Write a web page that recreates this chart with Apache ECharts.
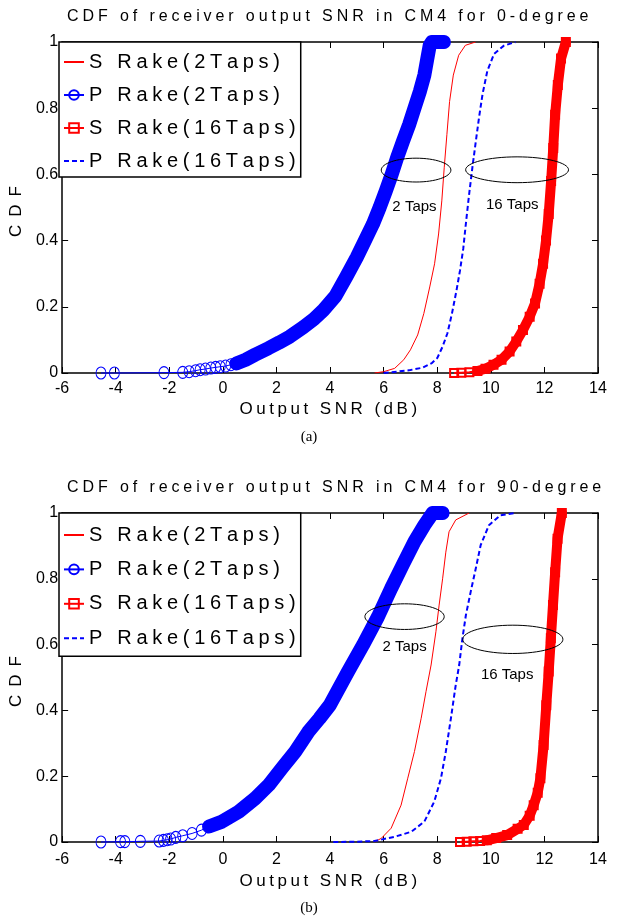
<!DOCTYPE html>
<html>
<head>
<meta charset="utf-8">
<script src="https://cdn.jsdelivr.net/npm/echarts@6/dist/echarts.min.js"></script>
<style>
  html, body { margin: 0; padding: 0; background: #fff; }
  #chart { width: 618px; height: 921px; }
</style>
</head>
<body>
<div id="chart"></div>
<script>
// ---------- text ----------
const panelTitles = [
  'CDF of receiver output SNR in CM4 for 0-degree',
  'CDF of receiver output SNR in CM4 for 90-degree'
];
const panelTags = ['(a)', '(b)'];
const seriesNames = ['S Rake(2Taps)', 'P Rake(2Taps)', 'S Rake(16Taps)', 'P Rake(16Taps)'];
const xAxisTitle = 'Output SNR (dB)';
const yAxisTitle = 'CDF';
const tapLabels = ['2 Taps', '16 Taps'];

// ---------- axes ----------
const xMin = -6, xMax = 14, xStep = 2;
const yMin = 0, yMax = 1, yStep = 0.2;

// ---------- panel (a): 0-degree, [SNR dB, CDF] ----------
const sRake2A = [[5.66,0],[6.0,0.004],[6.41,0.014],[6.75,0.04],[7.0,0.07],[7.27,0.115],[7.5,0.18],[7.72,0.26],[7.9,0.33],[8.05,0.42],[8.17,0.52],[8.26,0.62],[8.36,0.72],[8.46,0.82],[8.6,0.9],[8.8,0.96],[9.05,0.99],[9.43,1]];
const pRake2A = [[-4.55,0],[-4.05,0],[-2.2,0.001],[-1.5,0.002],[-1.26,0.004],[-1.02,0.007],[-0.85,0.01],[-0.65,0.012],[-0.45,0.015],[-0.27,0.017],[-0.1,0.019],[0.1,0.021],[0.3,0.025],[0.5,0.029],[0.85,0.04],[1.2,0.055],[1.7,0.075],[2.1,0.092],[2.5,0.11],[3.0,0.138],[3.4,0.163],[3.75,0.19],[4.2,0.232],[4.6,0.29],[5.0,0.35],[5.3,0.4],[5.6,0.45],[5.85,0.5],[6.08,0.55],[6.3,0.6],[6.5,0.65],[6.72,0.7],[6.95,0.75],[7.15,0.8],[7.35,0.85],[7.52,0.9],[7.63,0.95],[7.72,0.99],[7.8,1],[7.95,1],[8.1,1],[8.25,1]];
const sRake16A = [[8.63,0],[8.9,0.001],[9.2,0.002],[9.5,0.006],[9.8,0.013],[10.1,0.025],[10.4,0.04],[10.7,0.065],[10.95,0.095],[11.2,0.13],[11.45,0.17],[11.65,0.21],[11.82,0.27],[11.95,0.33],[12.06,0.4],[12.16,0.48],[12.25,0.58],[12.33,0.68],[12.4,0.78],[12.5,0.87],[12.62,0.95],[12.8,1]];
const pRake16A = [[6.0,0],[6.5,0.004],[7.0,0.009],[7.45,0.016],[7.8,0.03],[8.0,0.045],[8.2,0.08],[8.38,0.12],[8.55,0.18],[8.72,0.25],[8.85,0.31],[8.97,0.375],[9.08,0.46],[9.19,0.54],[9.31,0.62],[9.44,0.7],[9.56,0.772],[9.69,0.842],[9.87,0.913],[10.12,0.964],[10.49,0.989],[10.92,1]];

// ---------- panel (b): 90-degree, [SNR dB, CDF] ----------
const sRake2B = [[5.65,0],[5.91,0.011],[6.28,0.042],[6.65,0.112],[6.9,0.194],[7.15,0.275],[7.4,0.376],[7.58,0.457],[7.77,0.538],[7.95,0.639],[8.07,0.72],[8.2,0.8],[8.32,0.881],[8.44,0.943],[8.69,0.979],[9.19,1]];
const pRake2B = [[-4.55,0],[-3.82,0.001],[-3.66,0.001],[-3.08,0.002],[-2.38,0.003],[-2.22,0.005],[-2.08,0.007],[-1.95,0.009],[-1.76,0.014],[-1.5,0.019],[-1.15,0.026],[-0.8,0.036],[-0.52,0.047],[-0.03,0.062],[0.59,0.092],[1.21,0.133],[1.71,0.173],[2.2,0.224],[2.7,0.275],[3.19,0.335],[3.6,0.375],[3.99,0.416],[4.67,0.518],[5.23,0.599],[5.79,0.685],[6.28,0.771],[6.71,0.842],[7.15,0.913],[7.52,0.963],[7.83,1],[8.0,1],[8.2,1]];
const sRake16B = [[8.85,0],[9.1,0.001],[9.35,0.002],[9.6,0.003],[9.85,0.005],[10.2,0.012],[10.61,0.021],[11.0,0.04],[11.23,0.052],[11.45,0.08],[11.6,0.112],[11.75,0.15],[11.85,0.194],[11.97,0.295],[12.07,0.416],[12.16,0.518],[12.24,0.619],[12.32,0.72],[12.4,0.82],[12.49,0.922],[12.65,1]];
const pRake16B = [[4.12,0],[5.0,0.001],[5.66,0.003],[6.41,0.016],[7.03,0.031],[7.52,0.062],[7.89,0.123],[8.14,0.194],[8.32,0.275],[8.51,0.376],[8.69,0.477],[8.82,0.538],[8.94,0.619],[9.07,0.69],[9.25,0.761],[9.44,0.832],[9.62,0.902],[9.93,0.963],[10.36,0.993],[10.92,1]];

// ---------- annotation placement (data units): [cx, cy, half-width, half-height] ----------
const ellipseSpecA = [[7.21, 0.613, 1.30, 0.036], [10.98, 0.614, 1.92, 0.039]];
const ellipseSpecB = [[6.78, 0.685, 1.48, 0.039], [10.82, 0.616, 1.87, 0.043]];
const tapLabelPosA = [[7.15, 0.502], [10.8, 0.507]];
const tapLabelPosB = [[6.78, 0.594], [10.61, 0.508]];

// ---------- styling ----------
const RED = '#ff0000', BLUE = '#0000ff', INK = '#000';
const SANS = '"Liberation Sans", Arial, Helvetica, sans-serif';
const SERIF = '"Liberation Serif", "Times New Roman", serif';
const HIDDEN = { color: 'rgba(0,0,0,0)', borderColor: 'rgba(0,0,0,0)', borderWidth: 0 };

const panels = [
  { top: 42, height: 331, legendTop: 42, legendPad: [10, 5, 6, 4], legendGap: 13,
    labelMargin: 8, nameGap: 28,
    s2: sRake2A, p2: pRake2A, s16: sRake16A, p16: pRake16A, p2Band: 0.5, s16Band: 9.5,
    ellipses: ellipseSpecA, labels: tapLabelPosA, titleTop: 9, tagY: 437 },
  { top: 513, height: 329, legendTop: 513, legendPad: [12, 5, 8, 4], legendGap: 14.4,
    labelMargin: 10, nameGap: 31,
    s2: sRake2B, p2: pRake2B, s16: sRake16B, p16: pRake16B, p2Band: -0.52, s16Band: 9.85,
    ellipses: ellipseSpecB, labels: tapLabelPosB, titleTop: 480, tagY: 908 }
];
const gridLeft = 59, gridWidth = 539;

// rich-text helper: every glyph is its own token, so trailing padding spreads the letters
function spaced(text) {
  return text.split('').map(ch => ch === ' ' ? '{w| }' : '{c|' + ch + '}').join('');
}
function spacedRich(size, gap, spaceExtra, family) {
  const base = { fontSize: size, fontFamily: family, color: INK, fontWeight: 'normal' };
  return {
    c: Object.assign({}, base, { padding: [0, gap, 0, 0] }),
    w: Object.assign({}, base, { padding: [0, gap + spaceExtra, 0, 0] })
  };
}

const titleRich = spacedRich(16, 3.9, 0, SANS);
const legendRich = spacedRich(20, 4.7, 0, SANS);
const xNameRich = spacedRich(17, 3.5, 0, SANS);
const yNameRich = spacedRich(17, 8, 0, SANS);

// legend entries: plain-line series get no marker in their key
const legendData = seriesNames.map((n, i) => (i === 0 || i === 3) ? { name: n, itemStyle: HIDDEN } : { name: n });

const option = {
  animation: false,
  backgroundColor: '#fff',
  title: panels.map((p, i) => ({
    text: spaced(panelTitles[i]), left: 67, top: p.titleTop, padding: 0,
    textStyle: { fontWeight: 'normal', rich: titleRich }
  })),
  grid: panels.map(p => ({
    left: gridLeft, top: p.top, width: gridWidth, height: p.height, containLabel: false
  })),
  legend: panels.map(p => ({
    data: legendData, orient: 'vertical', left: gridLeft, top: p.legendTop,
    padding: p.legendPad, itemGap: p.legendGap, itemWidth: 20, itemHeight: 12,
    backgroundColor: '#fff', borderColor: INK, borderWidth: 1.5, borderRadius: 0,
    selectedMode: false,
    formatter: name => spaced(name),
    textStyle: { rich: legendRich }
  })),
  xAxis: [],
  yAxis: [],
  series: [],
  graphic: []
};

const tickLabel = { fontSize: 16, fontFamily: SANS, color: INK };
panels.forEach((p, gi) => {
  const axisLine = { show: true, onZero: false, lineStyle: { color: INK, width: 1.5 } };
  const tick = { show: true, inside: true, length: 6, lineStyle: { color: INK, width: 1 } };
  option.xAxis.push({
    type: 'value', gridIndex: gi, position: 'bottom', min: xMin, max: xMax, interval: xStep,
    axisLine, axisTick: tick, splitLine: { show: false },
    axisLabel: { margin: p.labelMargin, ...tickLabel },
    name: spaced(xAxisTitle), nameLocation: 'middle', nameGap: p.nameGap,
    nameTextStyle: { rich: xNameRich }
  }, {
    type: 'value', gridIndex: gi, position: 'top', min: xMin, max: xMax, interval: xStep,
    axisLine, axisTick: tick, axisLabel: { show: false }, splitLine: { show: false }
  });
  option.yAxis.push({
    type: 'value', gridIndex: gi, position: 'left', min: yMin, max: yMax, interval: yStep,
    axisLine, axisTick: tick, splitLine: { show: false },
    axisLabel: { margin: 4, ...tickLabel },
    name: spaced(yAxisTitle), nameLocation: 'middle', nameGap: 29, nameRotate: 90,
    nameTextStyle: { rich: yNameRich }
  }, {
    type: 'value', gridIndex: gi, position: 'right', min: yMin, max: yMax, interval: yStep,
    axisLine, axisTick: tick, axisLabel: { show: false }, splitLine: { show: false }
  });

  const ax = { xAxisIndex: gi * 2, yAxisIndex: gi * 2 };
  option.series.push(
    Object.assign({
      name: seriesNames[0], type: 'line', data: p.s2, symbol: 'none',
      lineStyle: { color: RED, width: 1 }, itemStyle: { color: RED }, z: 3
    }, ax),
    // dense run of circle markers merges into a solid stroke
    Object.assign({
      name: 'P Rake(2Taps) dense', type: 'line', data: p.p2.filter(d => d[0] >= p.p2Band),
      symbol: 'none', silent: true, clip: false,
      lineStyle: { color: BLUE, width: 14, cap: 'round', join: 'round' }, z: 3
    }, ax),
    Object.assign({
      name: seriesNames[1], type: 'line', data: p.p2, symbol: 'circle', symbolSize: [10, 12],
      showAllSymbol: true, clip: false,
      lineStyle: { color: BLUE, width: 1 },
      itemStyle: { color: 'rgba(0,0,0,0)', borderColor: BLUE, borderWidth: 1 }, z: 4
    }, ax),
    Object.assign({
      name: 'S Rake(16Taps) dense', type: 'line', data: p.s16.filter(d => d[0] >= p.s16Band),
      symbol: 'none', silent: true, clip: false,
      lineStyle: { color: RED, width: 10, cap: 'round', join: 'round' }, z: 3
    }, ax),
    Object.assign({
      name: seriesNames[2], type: 'line', data: p.s16, symbol: 'rect', symbolSize: 8,
      showAllSymbol: true, clip: false,
      lineStyle: { color: RED, width: 2 },
      itemStyle: { color: 'rgba(0,0,0,0)', borderColor: RED, borderWidth: 2 }, z: 4
    }, ax),
    Object.assign({
      name: seriesNames[3], type: 'line', data: p.p16, symbol: 'none',
      lineStyle: { color: BLUE, width: 2, type: [5, 3] }, itemStyle: { color: BLUE }, z: 5
    }, ax)
  );
});

const chart = echarts.init(document.getElementById('chart'), null, { renderer: 'canvas' });
chart.setOption(option);

// ellipse call-outs, tap-count labels and panel tags placed through the axes
const graphics = [];
panels.forEach((p, gi) => {
  const finder = { xAxisIndex: gi * 2, yAxisIndex: gi * 2 };
  p.ellipses.forEach(([cx, cy, hw, hh]) => {
    const c = chart.convertToPixel(finder, [cx, cy]);
    const e = chart.convertToPixel(finder, [cx + hw, cy + hh]);
    graphics.push({
      type: 'ellipse', z: 20, silent: true,
      shape: { cx: c[0], cy: c[1], rx: e[0] - c[0], ry: c[1] - e[1] },
      style: { fill: 'none', stroke: INK, lineWidth: 1 }
    });
  });
  p.labels.forEach(([lx, ly], k) => {
    const c = chart.convertToPixel(finder, [lx, ly]);
    graphics.push({
      type: 'text', z: 20, silent: true, x: c[0], y: c[1],
      style: { text: tapLabels[k], font: '15px ' + SANS, fill: INK,
               align: 'center', verticalAlign: 'middle', textAlign: 'center', textVerticalAlign: 'middle' }
    });
  });
  graphics.push({
    type: 'text', z: 20, silent: true, x: 309, y: p.tagY,
    style: { text: panelTags[gi], font: '15px ' + SERIF, fill: INK,
             align: 'center', verticalAlign: 'middle', textAlign: 'center', textVerticalAlign: 'middle' }
  });
});
chart.setOption({ graphic: graphics });
</script>
</body>
</html>
